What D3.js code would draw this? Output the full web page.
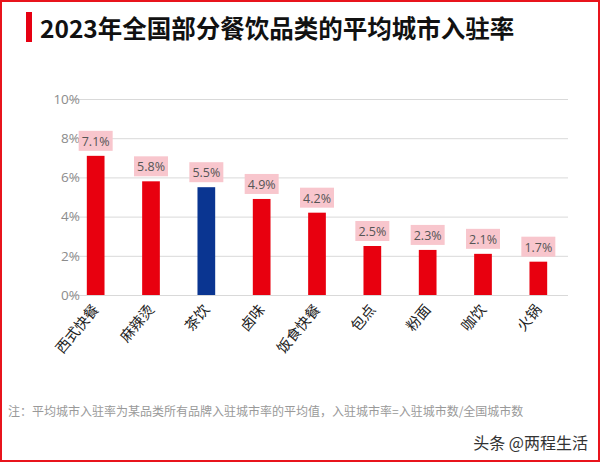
<!DOCTYPE html>
<html>
<head>
<meta charset="utf-8">
<script src="https://cdn.jsdelivr.net/npm/d3@7/dist/d3.min.js"></script>
<style>
  body { margin: 0; background: #fff; }
  text { font-family: "Noto Sans CJK SC", "Noto Sans", sans-serif; }
</style>
</head>
<body>
<div id="chart"></div>
<script>
// categories and values (%)
var categories = ["西式快餐", "麻辣烫", "茶饮", "卤味", "饭食快餐", "包点", "粉面", "咖饮", "火锅"];
var rates = [7.1, 5.8, 5.5, 4.9, 4.2, 2.5, 2.3, 2.1, 1.7];
var highlight = ["茶饮"];
var yTicks = [0, 2, 4, 6, 8, 10];

var width = 600;
var height = 462;
var margin = {left: 68, right: 34, top: 99, bottom: 167};

var svg = d3.select("#chart").append("svg")
	.attr("width", width)
	.attr("height", height);

// outer red frame
svg.append("rect")
	.attr("x", 1).attr("y", 1)
	.attr("width", width - 2).attr("height", height - 2)
	.attr("fill", "none")
	.attr("stroke", "#e8141c")
	.attr("stroke-width", 2);

// title with red marker
svg.append("rect")
	.attr("x", 26).attr("y", 12)
	.attr("width", 6).attr("height", 30)
	.attr("fill", "#e60012");
svg.append("text")
	.attr("x", 40).attr("y", 38)
	.attr("font-size", 24.5)
	.attr("font-weight", "bold")
	.attr("fill", "#111")
	.text("2023年全国部分餐饮品类的平均城市入驻率");

var x = d3.scaleBand()
	.domain(categories)
	.range([margin.left, width - margin.right])
	.paddingInner(0.68)
	.paddingOuter(0.34);

var y = d3.scaleLinear()
	.domain([0, 10])
	.range([height - margin.bottom, margin.top]);

// gridlines
svg.append("g")
	.selectAll("line")
	.data(yTicks)
	.enter().append("line")
	.attr("x1", margin.left)
	.attr("x2", width - margin.right + 2)
	.attr("y1", function(d){ return y(d) + 0.5; })
	.attr("y2", function(d){ return y(d) + 0.5; })
	.attr("stroke", "#d9d9d9")
	.attr("stroke-width", 1);

// y axis labels
var yAxis = d3.axisLeft(y)
	.tickValues(yTicks)
	.tickSize(0)
	.tickPadding(0)
	.tickFormat(function(d){ return d + "%"; });
var ya = svg.append("g")
	.attr("transform", "translate(" + 80 + ",0)")
	.call(yAxis);
ya.select(".domain").remove();
ya.selectAll("text")
	.attr("font-size", 13.5)
	.attr("fill", "#8c8c8c")
	.style("font-family", "'Open Sans', 'Noto Sans', sans-serif");

// bars
svg.append("g")
	.selectAll("rect")
	.data(rates)
	.enter().append("rect")
	.attr("x", function(d, i){ return x(categories[i]); })
	.attr("y", function(d){ return y(d); })
	.attr("width", x.bandwidth())
	.attr("height", function(d){ return y(0) - y(d); })
	.attr("fill", function(d, i){
		return highlight.indexOf(categories[i]) > -1 ? "#0a3591" : "#e8000f";
	});

// value labels with pink boxes
var lbl = svg.append("g")
	.selectAll("g")
	.data(rates)
	.enter().append("g")
	.attr("transform", function(d, i){
		return "translate(" + (x(categories[i]) + x.bandwidth() / 2) + "," + (y(d) - 5) + ")";
	});
lbl.append("rect")
	.attr("x", -17).attr("y", -20)
	.attr("width", 34).attr("height", 20)
	.attr("fill", "#f8c6cd");
lbl.append("text")
	.attr("y", -5)
	.attr("text-anchor", "middle")
	.attr("font-size", 12.5)
	.attr("fill", "#555")
	.style("font-family", "'Open Sans', 'Noto Sans', sans-serif")
	.text(function(d){ return d.toFixed(1) + "%"; });

// x axis labels, rotated
var xAxis = d3.axisBottom(x).tickSize(0).tickPadding(0);
var xa = svg.append("g")
	.attr("transform", "translate(0," + y(0) + ")")
	.call(xAxis);
xa.select(".domain").remove();
xa.selectAll("text")
	.attr("font-size", 14.5)
	.attr("fill", "#222")
	.attr("text-anchor", "end")
	.attr("dy", 0)
	.attr("transform", "translate(4,15) rotate(-50)");

// footnote
svg.append("text")
	.attr("x", 8).attr("y", 416)
	.attr("font-size", 12)
	.attr("fill", "#999")
	.text("注：平均城市入驻率为某品类所有品牌入驻城市率的平均值，入驻城市率=入驻城市数/全国城市数");

// watermark
svg.append("text")
	.attr("x", 588).attr("y", 449)
	.attr("text-anchor", "end")
	.attr("font-size", 16)
	.attr("fill", "#333")
	.text("头条 @两程生活");
</script>
</body>
</html>
